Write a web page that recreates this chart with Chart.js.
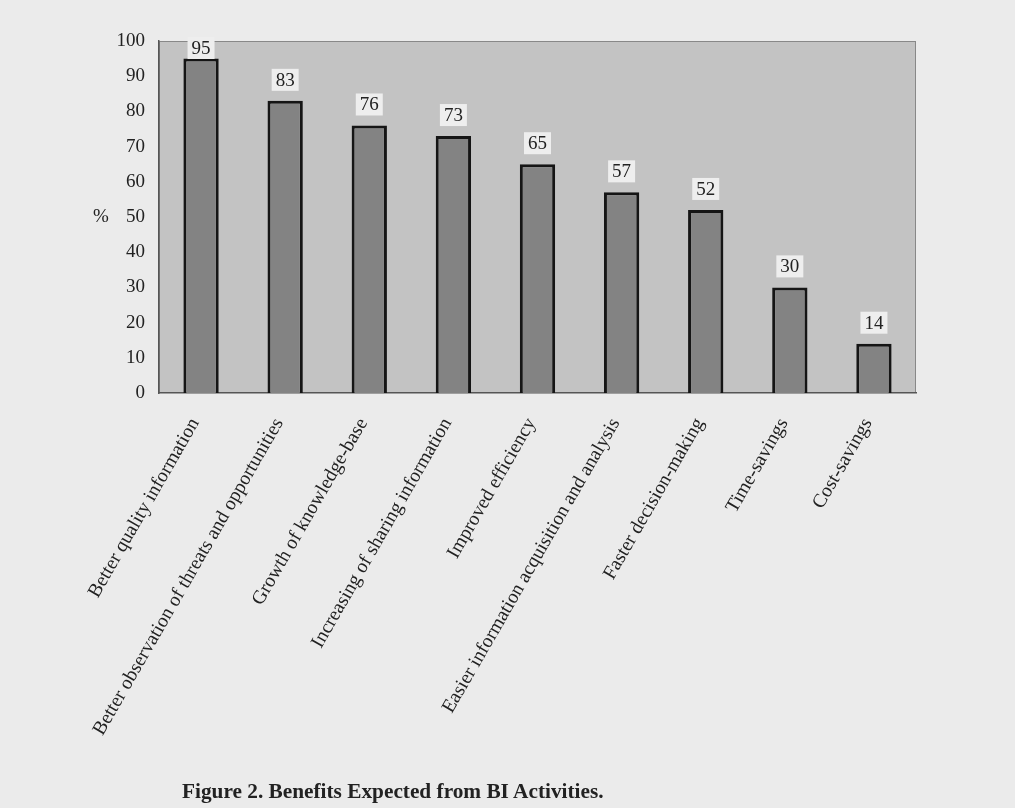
<!DOCTYPE html>
<html>
<head>
<meta charset="utf-8">
<script src="https://cdn.jsdelivr.net/npm/chart.js@4.4.1/dist/chart.umd.min.js"></script>
<style>
  html, body { margin: 0; padding: 0; background: #ebebeb; }
  #wrap { position: relative; width: 1015px; height: 808px; }
  #caption { position: absolute; left: 182px; top: 779px; font-family: "Liberation Serif", "Times New Roman", serif; font-weight: bold; font-size: 21.3px; color: #222; }
</style>
</head>
<body>
<div id="wrap">
  <canvas id="c" width="1015" height="808"></canvas>
  <div id="caption">Figure 2. Benefits Expected from BI Activities.</div>
</div>
<script>
const categories = [
  "Better quality information",
  "Better observation of threats and opportunities",
  "Growth of knowledge-base",
  "Increasing of sharing information",
  "Improved efficiency",
  "Easier information acquisition and analysis",
  "Faster decision-making",
  "Time-savings",
  "Cost-savings"
];
const percentValues = [95, 83, 76, 73, 65, 57, 52, 30, 14];
const yTicks = [0, 10, 20, 30, 40, 50, 60, 70, 80, 90, 100];

const FONT = "'Liberation Serif', 'Times New Roman', serif";

const plotBg = {
  id: 'plotBg',
  beforeDraw(chart) {
    const { ctx, chartArea: a } = chart;
    ctx.save();
    ctx.fillStyle = '#c3c3c3';
    ctx.fillRect(a.left, a.top, a.right - a.left, a.bottom - a.top);
    ctx.strokeStyle = '#888';
    ctx.lineWidth = 1;
    ctx.strokeRect(a.left + 0.5, a.top + 0.5, a.right - a.left - 1, a.bottom - a.top - 1);
    ctx.restore();
  }
};

const valueLabels = {
  id: 'valueLabels',
  afterDatasetsDraw(chart) {
    const { ctx } = chart;
    const meta = chart.getDatasetMeta(0);
    ctx.save();
    ctx.font = '19px ' + FONT;
    ctx.textAlign = 'center';
    ctx.textBaseline = 'middle';
    meta.data.forEach((bar, i) => {
      const txt = String(chart.data.datasets[0].data[i]);
      const w = ctx.measureText(txt).width + 8;
      const y = Math.max(bar.y - 21, chart.chartArea.top + 7);
      ctx.fillStyle = '#eeeeee';
      ctx.fillRect(bar.x - w / 2, y - 11, w, 22);
      ctx.fillStyle = '#222';
      ctx.fillText(txt, bar.x, y + 1);
    });
    const ys = chart.scales.y;
    ctx.fillText('%', 101, ys.getPixelForValue(50));
    ctx.restore();
  }
};

new Chart(document.getElementById('c'), {
  type: 'bar',
  data: {
    labels: categories,
    datasets: [{
      data: percentValues,
      backgroundColor: '#838383',
      borderColor: '#151515',
      borderWidth: 3,
      categoryPercentage: 1.0,
      barPercentage: 0.42
    }]
  },
  options: {
    responsive: false,
    animation: false,
    layout: { padding: { left: 0, top: 41, right: 99, bottom: 0 } },
    plugins: { legend: { display: false }, tooltip: { enabled: false } },
    scales: {
      x: {
        grid: { display: false, drawTicks: false },
        border: { display: true, color: '#555', width: 1.5 },
        ticks: {
          minRotation: 60, maxRotation: 60, autoSkip: false,
          color: '#222', padding: 21, labelOffset: -6,
          font: { family: FONT, size: 19.5 }
        },
        afterFit(s) { s.height = 415; }
      },
      y: {
        min: 0, max: 100,
        afterBuildTicks(s) { s.ticks = yTicks.map(v => ({ value: v })); },
        grid: { display: false, drawTicks: false },
        border: { display: true, color: '#555', width: 1.5 },
        ticks: {
          color: '#222', padding: 14,
          font: { family: FONT, size: 19 }
        },
        afterFit(s) { s.width = 159; }
      }
    }
  },
  plugins: [plotBg, valueLabels]
});
</script>
</body>
</html>
